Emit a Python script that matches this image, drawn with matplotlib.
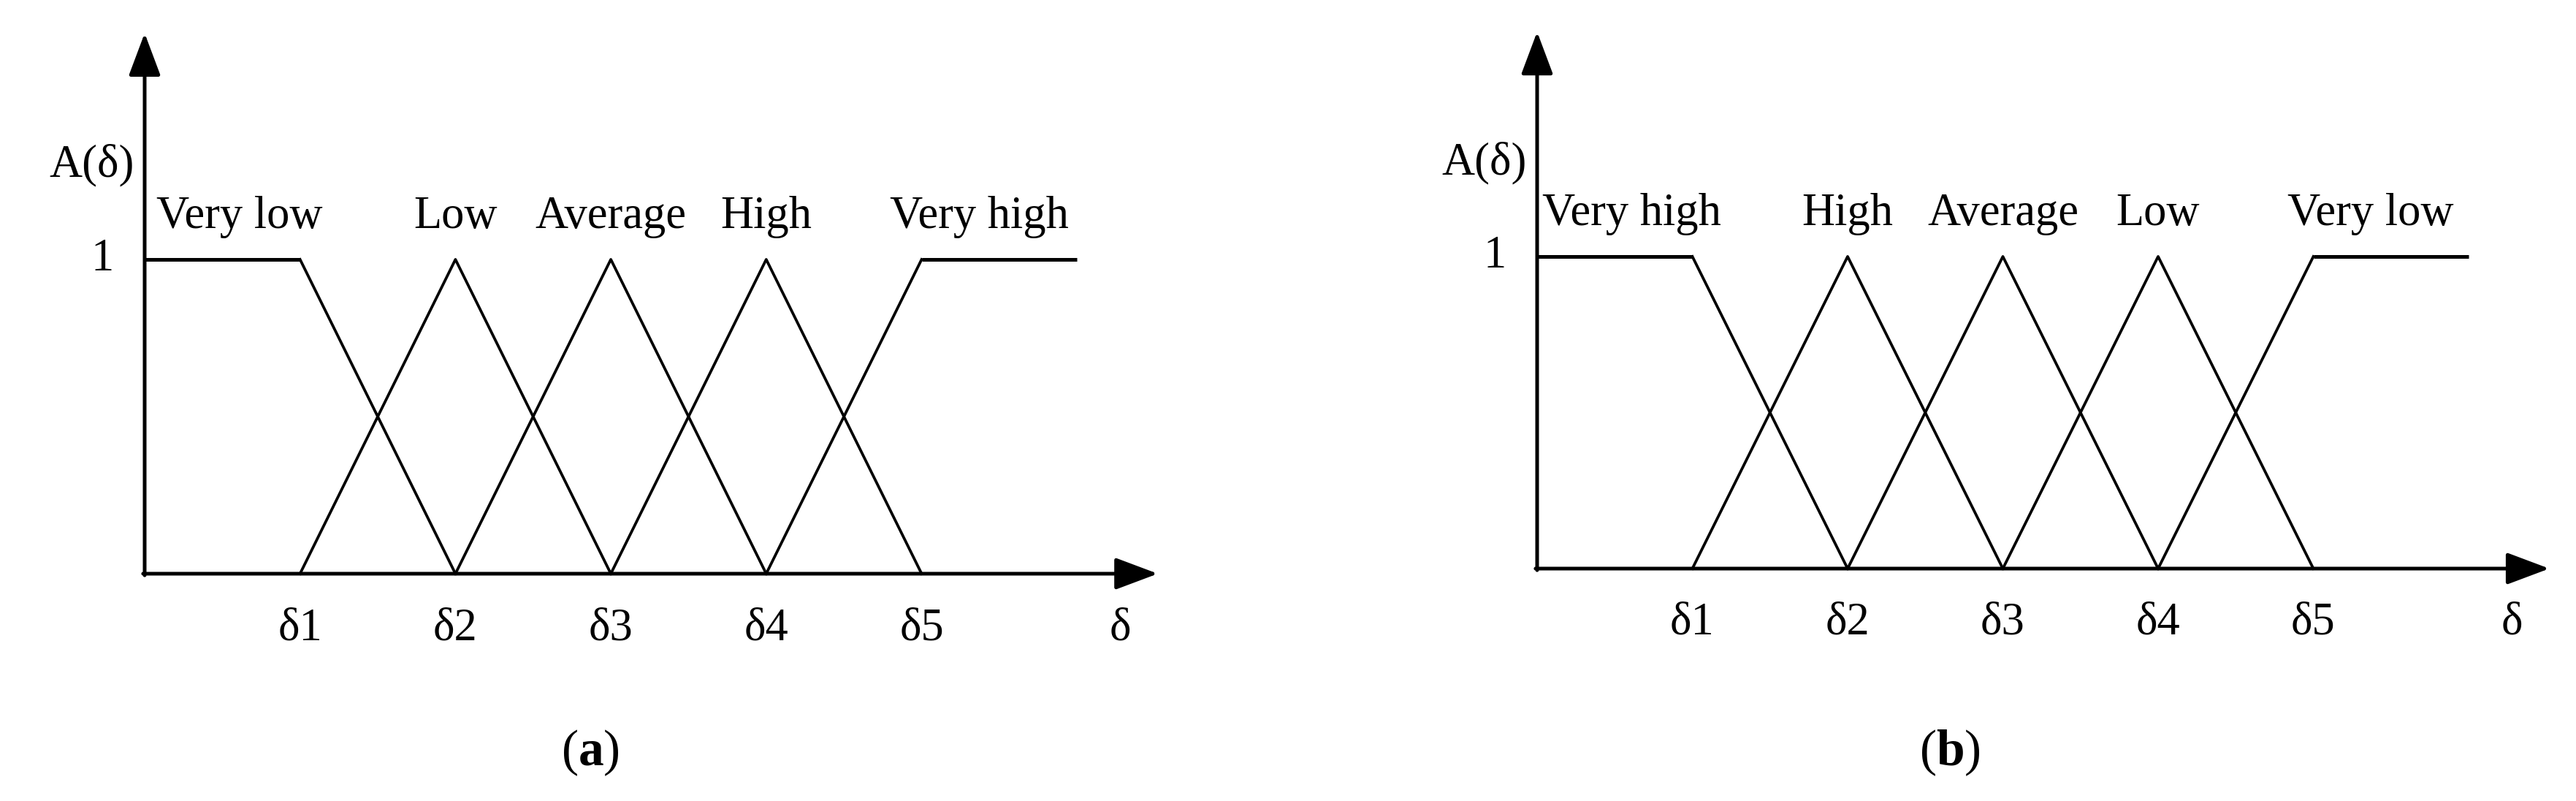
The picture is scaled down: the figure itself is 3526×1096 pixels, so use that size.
import matplotlib.pyplot as plt

plt.rcParams["font.family"] = ["Liberation Serif", "DejaVu Serif"]
plt.rcParams["mathtext.fontset"] = "custom"
plt.rcParams["mathtext.rm"] = "Liberation Serif"
plt.rcParams["mathtext.bf"] = "Liberation Serif:bold"

# Membership function breakpoints (delta units)
left_x = [0, 1, 2]
left_y = [1, 1, 0]
tri_centers = [2, 3, 4]
right_x = [4, 5, 6]
right_y = [0, 1, 1]

tick_pos = [1, 2, 3, 4, 5]
tick_labels = ["δ1", "δ2", "δ3", "δ4", "δ5"]

label_pos = [0.61, 2, 3, 4, 5.37]
labels_a = ["Very low", "Low", "Average", "High", "Very high"]
labels_b = ["Very high", "High", "Average", "Low", "Very low"]

W, H = 3526, 1096
fig = plt.figure(figsize=(W / 100, H / 100), dpi=100)


def draw_panel(left_px, right_px, origin_x, origin_y, ux, uy, labels, caption, cap_x):
    ax = fig.add_axes([left_px / W, 0, (right_px - left_px) / W, 1])
    ax.set_xlim((left_px - origin_x) / ux, (right_px - origin_x) / ux)
    ax.set_ylim(-(H - origin_y) / uy, origin_y / uy)
    ax.axis("off")

    # axes with arrow heads
    arrow = dict(arrowstyle="-|>,head_length=1.2,head_width=0.45", lw=3.6,
                 color="black", shrinkA=0, shrinkB=0, mutation_scale=30)
    ax.annotate("", xy=(6.52, 0), xytext=(-0.01, 0), arrowprops=arrow)
    ax.annotate("", xy=(0, 1.72), xytext=(0, -0.005), arrowprops=arrow)

    # membership functions
    ax.plot(left_x[:2], left_y[:2], color="black", lw=3.6, solid_capstyle="butt")
    ax.plot(left_x[1:], left_y[1:], color="black", lw=2.7)
    for c in tri_centers:
        ax.plot([c - 1, c, c + 1], [0, 1, 0], color="black", lw=2.7)
    ax.plot(right_x[:2], right_y[:2], color="black", lw=2.7)
    ax.plot(right_x[1:], right_y[1:], color="black", lw=3.6, solid_capstyle="butt")

    fs = 45
    for x, t in zip(label_pos, labels):
        ax.text(x, 1.135, t, ha="center", va="center", fontsize=fs)
    for x, t in zip(tick_pos, tick_labels):
        ax.text(x, -0.175, t, ha="center", va="center", fontsize=fs)
    ax.text(6.28, -0.175, "δ", ha="center", va="center", fontsize=fs)
    ax.text(-0.27, 1.0, "1", ha="center", va="center", fontsize=fs)
    ax.text(-0.34, 1.30, "A(δ)", ha="center", va="center", fontsize=fs)

    fig.text(cap_x, 0.06, r"$(\mathbf{%s})$" % caption, ha="center",
             va="center", fontsize=50)


draw_panel(0, 1763, 198, 785, 212.7, 430, labels_a, "a", 0.229)
draw_panel(1763, W, 2104, 778, 212.5, 427, labels_b, "b", 0.757)

fig.savefig("out.png", dpi=100, facecolor="white")
